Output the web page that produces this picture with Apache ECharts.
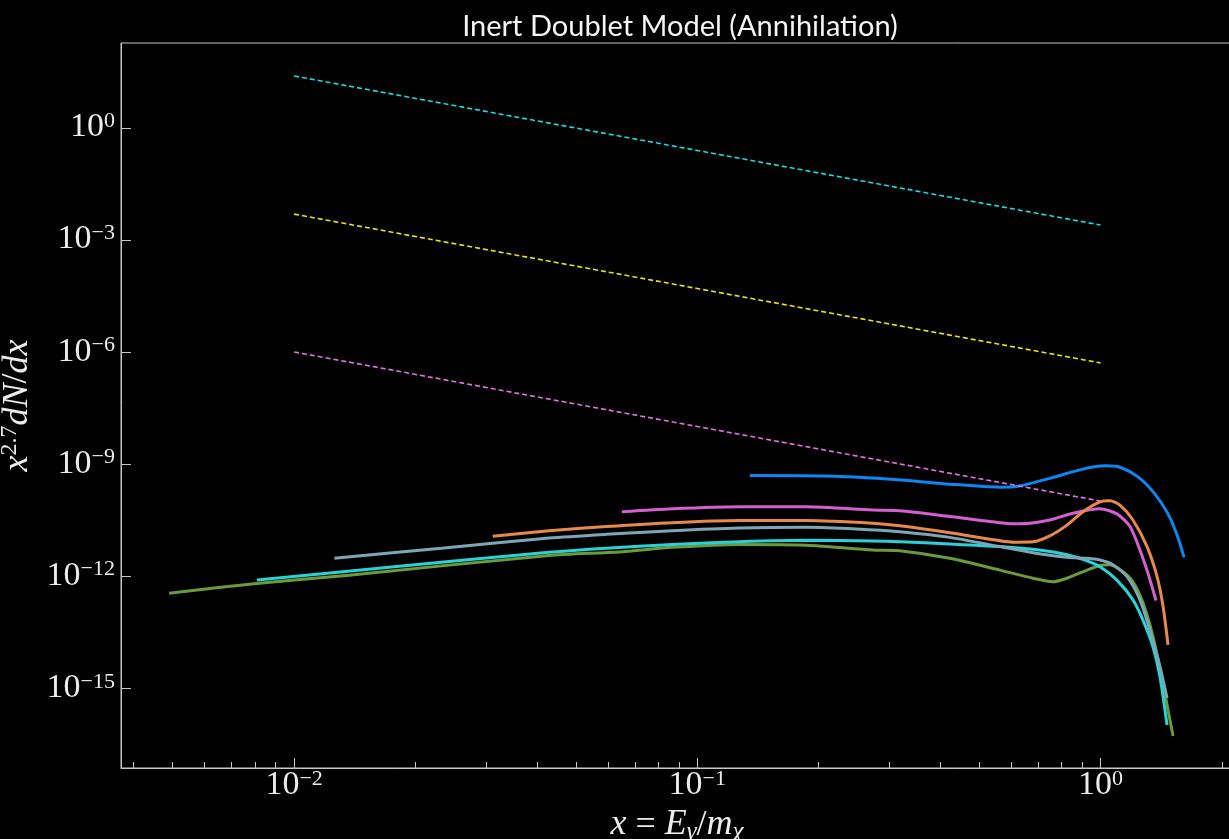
<!DOCTYPE html>
<html lang="en">
<head>
    <meta charset="utf-8">
    <title>Inert Doublet Model (Annihilation)</title>
    <style>
* {
  margin: 0;
  padding: 0;
}
html, body {
  background: #000;
}
#chart-container {
  position: relative;
  width: 1229px;
  height: 839px;
  overflow: hidden;
}
    </style>
</head>
<body>
<div id="chart-container"></div>
<script src="https://fastly.jsdelivr.net/npm/echarts@6/dist/echarts.min.js"></script>
<script>
// x = E_gamma / m_chi, y = x^2.7 dN/dx
let xGreen = [0.0049, 0.00807, 0.0137, 0.0429, 0.064, 0.0867, 0.127, 0.187, 0.272, 0.318, 0.423, 0.563, 0.68, 0.762, 0.826, 0.926, 0.997, 1.056, 1.137, 1.204, 1.275, 1.35, 1.43, 1.471, 1.514];
let yGreen = [3.6e-13, 6.6e-13, 1.1e-12, 3.7e-12, 4.6e-12, 6.1e-12, 7.3e-12, 7.0e-12, 5.2e-12, 4.95e-12, 3.1e-12, 1.5e-12, 9.1e-13, 7.3e-13, 9.1e-13, 1.5e-12, 2.0e-12, 2.1e-12, 1.35e-12, 7.3e-13, 2.0e-13, 2.5e-14, 1.4e-15, 2.7e-16, 5.4e-17];

let xCyan = [0.00809, 0.0185, 0.0429, 0.0594, 0.0867, 0.127, 0.187, 0.272, 0.318, 0.423, 0.563, 0.68, 0.749, 0.826, 0.905, 0.997, 1.099, 1.204, 1.275, 1.35, 1.405, 1.463];
let yCyan = [8.1e-13, 1.94e-12, 4.5e-12, 5.8e-12, 7.3e-12, 8.6e-12, 9.4e-12, 9.0e-12, 8.6e-12, 7.5e-12, 6.4e-12, 5.4e-12, 4.7e-12, 3.85e-12, 2.9e-12, 1.85e-12, 8.1e-13, 2.4e-13, 6.9e-14, 1.33e-14, 2.1e-15, 1.07e-16];

let xGray = [0.01259, 0.0232, 0.0429, 0.0594, 0.0867, 0.127, 0.187, 0.248, 0.318, 0.423, 0.563, 0.68, 0.826, 0.926, 0.997, 1.074, 1.164, 1.253, 1.327, 1.405, 1.463];
let yGray = [3.1e-12, 5.8e-12, 1.08e-11, 1.36e-11, 1.7e-11, 2.0e-11, 2.1e-11, 1.9e-11, 1.6e-11, 1.13e-11, 6.4e-12, 4.4e-12, 3.3e-12, 3.1e-12, 2.8e-12, 2.1e-12, 1.0e-12, 2.4e-13, 3.7e-14, 3.9e-15, 5.6e-16];

let xOrange = [0.0311, 0.0429, 0.0594, 0.0867, 0.127, 0.187, 0.272, 0.318, 0.423, 0.563, 0.613, 0.68, 0.749, 0.826, 0.905, 0.997, 1.056, 1.118, 1.204, 1.305, 1.382, 1.43, 1.471];
let yOrange = [1.21e-11, 1.7e-11, 2.2e-11, 2.8e-11, 3.2e-11, 3.2e-11, 2.7e-11, 2.3e-11, 1.5e-11, 9.2e-12, 8.4e-12, 8.6e-12, 1.24e-11, 2.4e-11, 5.5e-11, 1.01e-10, 1.08e-10, 8.2e-11, 3.3e-11, 6.4e-12, 1.0e-12, 1.6e-13, 1.5e-14];

let xMagenta = [0.065, 0.0867, 0.127, 0.187, 0.272, 0.318, 0.423, 0.563, 0.631, 0.749, 0.855, 0.997, 1.099, 1.184, 1.253, 1.312, 1.374];
let yMagenta = [5.5e-11, 6.6e-11, 7.5e-11, 7.5e-11, 6.1e-11, 5.85e-11, 4.1e-11, 2.8e-11, 2.6e-11, 3.3e-11, 5.0e-11, 6.6e-11, 4.8e-11, 2.2e-11, 5.2e-12, 1.23e-12, 2.3e-13];

let xBlue = [0.135, 0.219, 0.321, 0.423, 0.563, 0.62, 0.749, 0.905, 1.032, 1.118, 1.239, 1.358, 1.471, 1.549, 1.612];
let yBlue = [5.1e-10, 4.9e-10, 3.9e-10, 3.0e-10, 2.5e-10, 2.6e-10, 4.3e-10, 7.6e-10, 9.3e-10, 8.5e-10, 4.7e-10, 1.75e-10, 4.8e-11, 1.3e-11, 3.3e-12];

// dashed reference lines
let xRef = [0.01, 0.1, 1];
let yRefCyan = [25.5, 0.258, 2.6e-3];
let yRefYellow = [5.1e-3, 5.2e-5, 5.3e-7];
let yRefViolet = [1.04e-6, 1.05e-8, 1.06e-10];

// axis ticks
let xMajorTicks = [0.01, 0.1, 1];
let xMinorTicks = [0.004, 0.005, 0.006, 0.007, 0.008, 0.009, 0.02, 0.03, 0.04, 0.05, 0.06, 0.07, 0.08, 0.09, 0.2, 0.3, 0.4, 0.5, 0.6, 0.7, 0.8, 0.9, 2];
let yMajorTicks = [1e-15, 1e-12, 1e-9, 1e-6, 1e-3, 1];

function pairs(xs, ys) {
  return xs.map(function (x, i) { return [x, ys[i]]; });
}

function powLabel(v) {
  let e = Math.round(Math.log10(v));
  let s = e < 0 ? '\u2212' + (-e) : String(e);
  return '{b|10}{s|' + s + '}';
}

var axisColor = '#c8c8c8';
var textColor = '#ececec';
var serif = '"Liberation Serif", "DejaVu Serif", serif';

var labelRich = {
  b: { fontFamily: serif, fontSize: 34, color: textColor, lineHeight: 36, verticalAlign: 'top' },
  s: { fontFamily: serif, fontSize: 22, color: textColor, lineHeight: 20, verticalAlign: 'top' }
};

var dom = document.getElementById('chart-container');
var myChart = echarts.init(dom, null, {
  renderer: 'canvas',
  useDirtyRect: false
});

function solid(name, color, xs, ys) {
  return {
    name: name,
    type: 'line',
    data: pairs(xs, ys),
    showSymbol: false,
    symbol: 'none',
    smooth: 0.25,
    lineStyle: { color: color, width: 3 },
    xAxisIndex: 0,
    yAxisIndex: 0
  };
}

function dashed(name, color, ys) {
  return {
    name: name,
    type: 'line',
    data: pairs(xRef, ys),
    showSymbol: false,
    symbol: 'none',
    lineStyle: { color: color, width: 1.6, type: [5, 3] },
    xAxisIndex: 0,
    yAxisIndex: 0
  };
}

var xMin = Math.pow(10, -2.4293);
var xMax = Math.pow(10, 0.3288);
var yMin = Math.pow(10, -17.122);
var yMax = Math.pow(10, 2.289);

var option = {
  backgroundColor: '#000',
  animation: false,
  title: {
    text: 'Inert Doublet Model (Annihilation)',
    left: 675,
    textAlign: 'center',
    top: 7,
    textStyle: {
      fontFamily: 'Lato, "DejaVu Sans", sans-serif',
      fontSize: 29,
      fontWeight: 'normal',
      color: '#f4f4f4'
    }
  },
  grid: {
    left: 121,
    top: 43,
    width: 1112,
    height: 725,
    containLabel: false,
    outerBoundsMode: 'none',
    show: true,
    borderColor: axisColor,
    borderWidth: 1,
    backgroundColor: 'transparent'
  },
  xAxis: [
    {
      type: 'log',
      logBase: 10,
      min: xMin,
      max: xMax,
      name: '{i|x} = {i|E}{sub|\u03b3}/{i|m}{sub|\u03c7}',
      nameLocation: 'middle',
      nameGap: 32,
      nameTextStyle: {
        fontFamily: serif,
        fontSize: 36,
        color: textColor,
        rich: {
          i: { fontFamily: serif, fontStyle: 'italic', fontSize: 36, color: textColor, lineHeight: 38, verticalAlign: 'top' },
          sub: { fontFamily: serif, fontStyle: 'italic', fontSize: 25, color: textColor, lineHeight: 24, verticalAlign: 'bottom' }
        }
      },
      axisLine: { show: true, lineStyle: { color: axisColor, width: 1 } },
      axisTick: { show: true, inside: true, length: 10, customValues: xMajorTicks, lineStyle: { color: axisColor, width: 1 } },
      axisLabel: { show: true, margin: 0, customValues: xMajorTicks, formatter: powLabel, rich: labelRich },
      splitLine: { show: false },
      minorTick: { show: false }
    },
    {
      type: 'log',
      logBase: 10,
      min: xMin,
      max: xMax,
      position: 'bottom',
      axisLine: { show: false },
      axisTick: { show: true, inside: true, length: 6, customValues: xMinorTicks, lineStyle: { color: axisColor, width: 1 } },
      axisLabel: { show: false },
      splitLine: { show: false }
    }
  ],
  yAxis: {
    type: 'log',
    logBase: 10,
    min: yMin,
    max: yMax,
    name: '{i|x}{sup|2.7}{i|dN}/{i|dx}',
    nameLocation: 'middle',
    nameGap: 82,
    nameTextStyle: {
      fontFamily: serif,
      fontSize: 36,
      color: textColor,
      rich: {
        i: { fontFamily: serif, fontStyle: 'italic', fontSize: 36, color: textColor, lineHeight: 38, verticalAlign: 'bottom' },
        sup: { fontFamily: serif, fontSize: 24, color: textColor, lineHeight: 22, verticalAlign: 'top' }
      }
    },
    axisLine: { show: true, lineStyle: { color: axisColor, width: 1 } },
    axisTick: { show: true, inside: true, length: 10, customValues: yMajorTicks, lineStyle: { color: axisColor, width: 1 } },
    axisLabel: { show: true, margin: 6, customValues: yMajorTicks, formatter: powLabel, rich: labelRich },
    splitLine: { show: false },
    minorTick: { show: false }
  },
  series: [
    solid('blue', '#0c86f2', xBlue, yBlue),
    solid('magenta', '#d35fd3', xMagenta, yMagenta),
    solid('orange', '#e8894b', xOrange, yOrange),
    solid('green', '#6b9a3c', xGreen, yGreen),
    solid('cyan', '#27d3d6', xCyan, yCyan),
    solid('gray', '#7ba6b6', xGray, yGray),
    dashed('ref cyan', '#14dde6', yRefCyan),
    dashed('ref yellow', '#e8e60a', yRefYellow),
    dashed('ref violet', '#e56ee8', yRefViolet)
  ]
};

if (option && typeof option === 'object') {
  myChart.setOption(option);
}

window.addEventListener('resize', myChart.resize);
</script>
</body>
</html>
